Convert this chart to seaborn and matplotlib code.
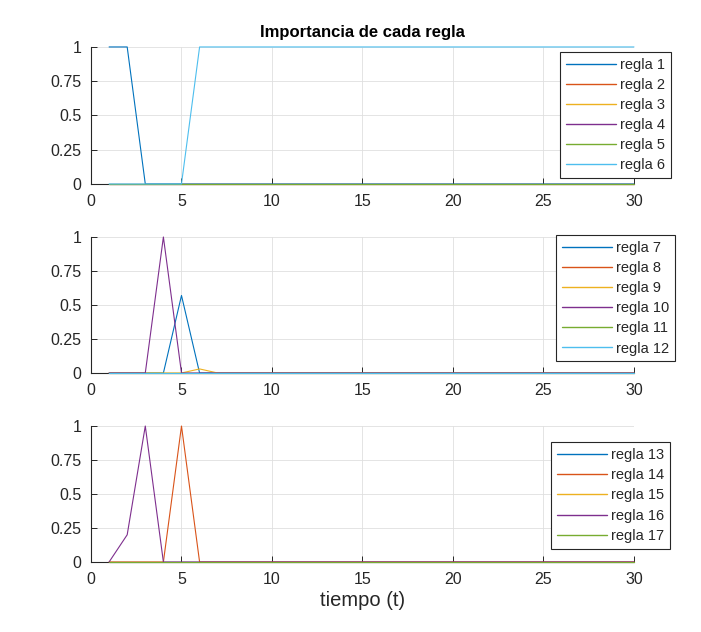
import numpy as np
import seaborn as sns
import matplotlib.pyplot as plt

# eje de tiempo t = 1..30
t = list(range(1, 31))

# panel 1: reglas 1-6
regla1 = [1, 1, 0] + [0] * 27
regla2 = [0] * 30
regla3 = [0] * 30
regla4 = [0] * 30
regla5 = [0] * 30
regla6 = [0, 0, 0, 0, 0] + [1] * 25

# panel 2: reglas 7-12
regla7 = [0, 0, 0, 0, 0.57, 0] + [0] * 24
regla8 = [0] * 30
regla9 = [0, 0, 0, 0, 0, 0.03, 0] + [0] * 23
regla10 = [0, 0, 0, 1, 0] + [0] * 25
regla11 = [0] * 30
regla12 = [0] * 30

# panel 3: reglas 13-17
regla13 = [0] * 30
regla14 = [0, 0, 0, 0, 1, 0] + [0] * 24
regla15 = [0] * 30
regla16 = [0, 0.2, 1, 0] + [0] * 26
regla17 = [0] * 30

paneles = [
    ([regla1, regla2, regla3, regla4, regla5, regla6], 1),
    ([regla7, regla8, regla9, regla10, regla11, regla12], 7),
    ([regla13, regla14, regla15, regla16, regla17], 13),
]

colores = ["#0072BD", "#D95319", "#EDB120", "#7E2F8E", "#77AC30", "#4DBEEE", "#A2142F"]

sns.set_style("white")
plt.rcParams["font.family"] = ["Liberation Sans", "DejaVu Sans"]

fig = plt.figure(figsize=(7.01, 6.32), dpi=100)

# posiciones de ejes (fig coords) y de leyendas
ejes_pos = [
    [0.1298, 0.7089, 0.7746, 0.2168],
    [0.1298, 0.4098, 0.7746, 0.2152],
    [0.1298, 0.1108, 0.7746, 0.2151],
]
leyenda_pos = [(0.957, 0.918), (0.963, 0.628), (0.956, 0.300)]

for i, (series, primera) in enumerate(paneles):
    ax = fig.add_axes(ejes_pos[i])
    for j, y in enumerate(series):
        sns.lineplot(x=t, y=y, ax=ax, color=colores[j], lw=0.8,
                     label="regla %d" % (primera + j), clip_on=False, zorder=3)
    ax.set_xlim(0, 30)
    ax.set_ylim(0, 1)
    ax.set_xticks(range(0, 31, 5))
    ax.set_yticks([0, 0.25, 0.5, 0.75, 1])
    ax.set_yticklabels(["0", "0.25", "0.5", "0.75", "1"])
    ax.tick_params(direction="in", length=4, width=0.7, labelsize=11.5,
                   colors="#262626", bottom=True, left=True)
    ax.tick_params(axis="x", pad=7)
    ax.tick_params(axis="y", pad=7)
    ax.grid(True, color="#dfdfdf", lw=0.6)
    ax.set_axisbelow(True)
    for s in ["top", "right"]:
        ax.spines[s].set_visible(False)
    for s in ["left", "bottom"]:
        ax.spines[s].set_color("#262626")
        ax.spines[s].set_linewidth(0.8)
    leg = ax.legend(loc="upper right", bbox_to_anchor=leyenda_pos[i],
                    bbox_transform=fig.transFigure, borderaxespad=0,
                    fontsize=10.5, handlelength=3.4, handletextpad=0.3,
                    labelspacing=0.42, borderpad=0.4, fancybox=False,
                    framealpha=1, edgecolor="#262626")
    leg.get_frame().set_linewidth(0.8)
    for h in leg.get_lines():
        h.set_linewidth(1.0)
    if i == 0:
        ax.set_title("Importancia de cada regla", fontsize=12,
                     fontweight="bold", pad=7, color="black")
    if i == 2:
        ax.set_xlabel("tiempo (t)", fontsize=14.5, color="#262626", labelpad=3)
    else:
        ax.set_xlabel("")

fig.savefig("out.png", dpi=100)
